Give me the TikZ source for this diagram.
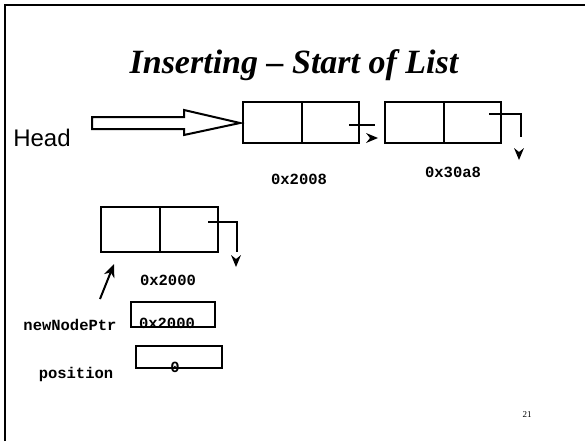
\documentclass[tikz,border=0pt]{standalone}
\usepackage{fontspec}
\setmainfont{Liberation Serif}
\newfontfamily\headfont{Liberation Sans}
\newfontfamily\codefont{Liberation Mono}
\usetikzlibrary{arrows.meta}
\begin{document}
\begin{tikzpicture}[x=1pt,y=-1pt,
  cell/.style={draw, line width=2pt, minimum height=41pt, inner sep=0pt, anchor=north west},
  ptr/.style={line width=2pt},
  arrowhd/.pic={\fill (0,0) -- (-12,-5) -- (-8,0) -- (-12,5) -- cycle;},
  addr/.style={font=\codefont\bfseries\fontsize{15.5}{16}\selectfont, inner sep=0pt},
  varbox/.style={draw, line width=2pt, inner sep=0pt, anchor=north west}]
\useasboundingbox (0,0) rectangle (585,441);

% slide frame: top and left rules
\draw[line width=2.5pt] (5,441) -- (5,5) -- (585,5);

% title
\node[font=\bfseries\itshape\fontsize{34}{36}\selectfont, anchor=base] (title) at (294,74) {Inserting -- Start of List};

% head label and hollow arrow
\node[font=\headfont\fontsize{24}{26}\selectfont, anchor=base, inner sep=0pt] (head) at (42,146) {Head};
\draw[line width=2pt] (92,117) -- (184,117) -- (184,110) -- (240,123) -- (184,135) -- (184,129) -- (92,129) -- cycle;

% first list node (0x2008)
\node[cell, minimum width=59pt] (n1d) at (242,101) {};
\node[cell, minimum width=57pt] (n1p) at (301,101) {};
\coordinate (n1s) at (349,125);
\coordinate (n1e) at (375,125);
\draw[ptr] (n1s) -- (n1e);
\coordinate (n1t) at (378,138);
\pic at (n1t) {arrowhd};
\node[addr] (l1) at (299,179) {0x2008};

% second list node (0x30a8)
\node[cell, minimum width=59pt] (n2d) at (384,101) {};
\node[cell, minimum width=57pt] (n2p) at (443,101) {};
\coordinate (n2s) at (489,114);
\coordinate (n2c) at (521,114);
\coordinate (n2e) at (521,137);
\draw[ptr] (n2s) -- (n2c) -- (n2e);
\coordinate (n2t) at (519,160);
\pic[rotate=-90] at (n2t) {arrowhd};
\node[addr] (l2) at (453,172) {0x30a8};

% new node (0x2000)
\node[cell, minimum width=59pt, minimum height=45pt] (n3d) at (100,206) {};
\node[cell, minimum width=58pt, minimum height=45pt] (n3p) at (159,206) {};
\coordinate (n3s) at (208,222);
\coordinate (n3c) at (237,222);
\coordinate (n3e) at (237,252);
\draw[ptr] (n3s) -- (n3c) -- (n3e);
\coordinate (n3t) at (236,267);
\pic[rotate=-90] at (n3t) {arrowhd};
\node[addr] (l3) at (168,280) {0x2000};

% variables
\node[varbox, minimum width=84pt, minimum height=25pt] (npbox) at (130,301) {};
\node[addr, anchor=base] (npname) at (70,330) {newNodePtr};
\node[addr] (npval) at (167,323) {0x2000};
\node[varbox, minimum width=86pt, minimum height=22pt] (posbox) at (135,345) {};
\node[addr, anchor=base] (posname) at (76,378) {position};
\node[addr] (posval) at (175,367) {0};

% newNodePtr points at the new node
\coordinate (pp) at (100,299);
\coordinate (pt) at (114,264);
\draw[line width=2pt, -{Stealth[length=13pt,width=11pt,inset=4pt]}] (pp) -- (pt);

% page number
\node[font=\fontsize{9}{10}\selectfont, inner sep=0pt] (page) at (527,415) {21};
\end{tikzpicture}
\end{document}
